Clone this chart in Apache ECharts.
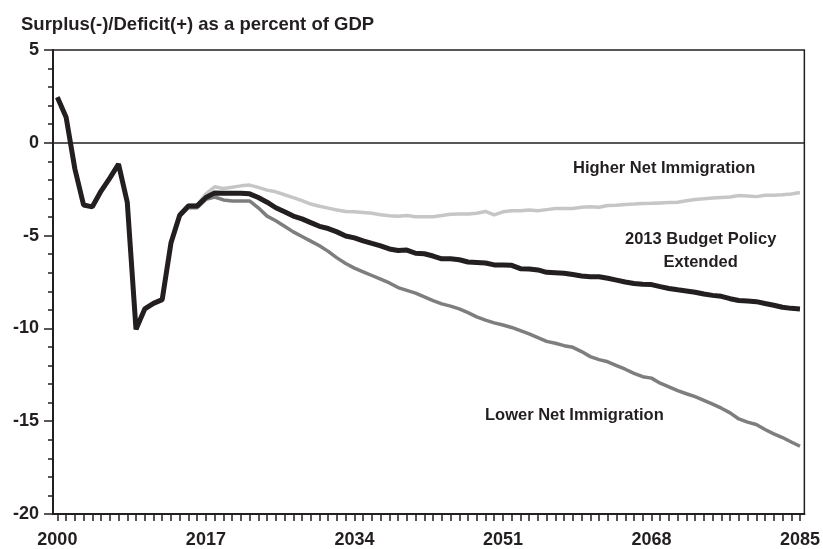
<!DOCTYPE html>
<html>
<head>
<meta charset="utf-8">
<script src="https://cdn.jsdelivr.net/npm/echarts@6/dist/echarts.min.js"></script>
<style>
  html, body { margin: 0; padding: 0; background: #fff; }
  #chart { width: 823px; height: 549px; }
</style>
</head>
<body>
<div id="chart"></div>
<script>
// years 2000..2085
var years = [];
for (var y = 2000; y <= 2085; y++) years.push(String(y));

// 2013 Budget Policy Extended (black)
var baseline = [
  2.45, 1.38, -1.4, -3.35, -3.45, -2.6, -1.9, -1.15, -3.2, -10.05,
  -8.95, -8.65, -8.45, -5.4, -3.9, -3.4, -3.4, -2.95, -2.7, -2.72,
  -2.72, -2.72, -2.75, -2.95, -3.2, -3.5, -3.72, -3.95, -4.1, -4.3,
  -4.5, -4.62, -4.8, -5.02, -5.12, -5.28, -5.42, -5.55, -5.72, -5.8,
  -5.78, -5.95, -5.98, -6.1, -6.25, -6.25, -6.3, -6.42, -6.45, -6.48,
  -6.58, -6.58, -6.6, -6.78, -6.8, -6.85, -6.98, -7.0, -7.03, -7.1,
  -7.18, -7.22, -7.22, -7.3, -7.4, -7.5, -7.58, -7.62, -7.64, -7.75,
  -7.85, -7.92, -7.98, -8.05, -8.15, -8.22, -8.27, -8.4, -8.5, -8.53,
  -8.56, -8.66, -8.75, -8.86, -8.92, -8.95
];

// Higher Net Immigration (light grey)
var higher = [
  2.45, 1.38, -1.4, -3.35, -3.45, -2.6, -1.9, -1.15, -3.2, -10.05,
  -8.95, -8.65, -8.45, -5.4, -3.85, -3.35, -3.35, -2.75, -2.37, -2.46,
  -2.4, -2.32, -2.28, -2.4, -2.55, -2.64, -2.8, -2.95, -3.12, -3.3,
  -3.42, -3.52, -3.62, -3.7, -3.72, -3.76, -3.8, -3.88, -3.93, -3.96,
  -3.92, -3.98, -3.98, -3.98, -3.92, -3.85, -3.84, -3.84, -3.8, -3.7,
  -3.88, -3.72, -3.66, -3.66, -3.62, -3.66, -3.6, -3.54, -3.54, -3.54,
  -3.47, -3.45, -3.47, -3.38, -3.36, -3.32, -3.3, -3.27, -3.26, -3.24,
  -3.22, -3.2, -3.12, -3.05, -3.02, -2.98, -2.95, -2.92, -2.84, -2.86,
  -2.9, -2.83, -2.82, -2.8, -2.76, -2.68
];

// Lower Net Immigration (mid grey)
var lower = [
  2.45, 1.38, -1.4, -3.35, -3.45, -2.6, -1.9, -1.15, -3.2, -10.05,
  -8.95, -8.65, -8.45, -5.4, -3.95, -3.5, -3.5, -3.05, -2.92, -3.08,
  -3.13, -3.13, -3.13, -3.5, -3.95, -4.2, -4.5, -4.8, -5.05, -5.3,
  -5.55, -5.85, -6.2, -6.5, -6.75, -6.95, -7.15, -7.35, -7.55, -7.8,
  -7.95, -8.1, -8.3, -8.5, -8.68, -8.8, -8.95, -9.15, -9.38, -9.55,
  -9.7, -9.82, -9.95, -10.12, -10.3, -10.5, -10.7, -10.8, -10.93, -11.02,
  -11.25, -11.52, -11.68, -11.8, -12.0, -12.2, -12.42, -12.6, -12.68, -12.95,
  -13.15, -13.35, -13.52, -13.68, -13.88, -14.08, -14.3, -14.55, -14.88, -15.05,
  -15.18, -15.45, -15.68, -15.88, -16.12, -16.35
];

var ink = '#231f20';
var font = 'Liberation Sans, Arial, sans-serif';

var chart = echarts.init(document.getElementById('chart'));
chart.setOption({
  animation: false,
  backgroundColor: '#fff',
  title: {
    text: 'Surplus(-)/Deficit(+) as a percent of GDP',
    left: 16,
    top: 10,
    textStyle: { color: ink, fontSize: 18.5, fontWeight: 'bold', fontFamily: font }
  },
  grid: {
    left: 53, right: 17, top: 50, bottom: 33,
    show: true,
    borderColor: ink,
    borderWidth: 1.5
  },
  xAxis: {
    type: 'category',
    data: years,
    boundaryGap: true,
    axisLine: { onZero: false, lineStyle: { color: ink, width: 2 } },
    axisTick: { show: true, alignWithLabel: true, interval: 0, length: 7, lineStyle: { color: ink, width: 1.5 } },
    axisLabel: {
      interval: 16,
      margin: 17,
      color: ink, fontSize: 18, fontWeight: 'bold', fontFamily: font
    },
    splitLine: { show: false }
  },
  yAxis: {
    type: 'value',
    min: -20, max: 5, interval: 5,
    axisLine: { show: true, lineStyle: { color: ink, width: 2 } },
    axisTick: { show: true, length: 9, lineStyle: { color: ink, width: 1.5 } },
    minorTick: { show: true, splitNumber: 5, length: 5, lineStyle: { color: ink, width: 1.5 } },
    axisLabel: { margin: 14, color: ink, fontSize: 18, fontWeight: 'bold', fontFamily: font },
    splitLine: { show: false }
  },
  series: [
    {
      name: 'Higher Net Immigration',
      type: 'line',
      data: higher,
      symbol: 'none',
      lineStyle: { color: '#c6c6c6', width: 3.5 },
      markLine: {
        silent: true,
        symbol: ['none', 'none'],
        label: { show: false },
        lineStyle: { color: ink, width: 1.5, type: 'solid' },
        data: [{ yAxis: 0 }]
      }
    },
    {
      name: 'Lower Net Immigration',
      type: 'line',
      data: lower,
      symbol: 'none',
      lineStyle: { color: '#7e7e7e', width: 3.5 }
    },
    {
      name: '2013 Budget Policy Extended',
      type: 'line',
      data: baseline,
      symbol: 'none',
      lineStyle: { color: ink, width: 5 }
    }
  ],
  graphic: [
    { type: 'text', left: 573, top: 160, style: { text: 'Higher Net Immigration', fill: ink, font: 'bold 16.5px ' + font } },
    { type: 'text', left: 625, top: 228, style: { text: '2013 Budget Policy\nExtended', fill: ink, align: 'center', lineHeight: 23, font: 'bold 16.5px ' + font, textAlign: 'center' } },
    { type: 'text', left: 485, top: 407, style: { text: 'Lower Net Immigration', fill: ink, font: 'bold 16.5px ' + font } }
  ]
});
</script>
</body>
</html>
